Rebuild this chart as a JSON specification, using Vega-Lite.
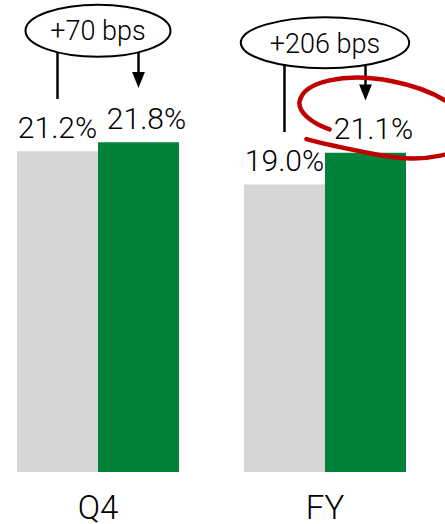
{
  "$schema": "https://vega.github.io/schema/vega-lite/v6.json",
  "width": 423,
  "height": 472,
  "autosize": {"type": "none"},
  "padding": {"left": 0, "top": 0, "right": 22, "bottom": 52},
  "background": "white",
  "config": {"view": {"stroke": null}},
  "datasets": {
    "bars": [
      {"group": "Q4", "period": "PY", "value": 21.2, "label": "21.2%"},
      {"group": "Q4", "period": "CY", "value": 21.8, "label": "21.8%"},
      {"group": "FY", "period": "PY", "value": 19.0, "label": "19.0%"},
      {"group": "FY", "period": "CY", "value": 21.1, "label": "21.1%"}
    ],
    "ellipses": [
      {"group": "Q4", "y": 29.17, "ty": 28.56, "text": "+70 bps"},
      {"group": "FY", "y": 28.38, "ty": 27.70, "text": "+206 bps"}
    ],
    "lines": [
      {"group": "Q4", "period": "PY", "y": 27.74, "y2": 24.66},
      {"group": "Q4", "period": "CY", "y": 27.74, "y2": 26.2},
      {"group": "FY", "period": "PY", "y": 26.9, "y2": 22.47},
      {"group": "FY", "period": "CY", "y": 26.9, "y2": 25.4}
    ],
    "arrows": [
      {"group": "Q4", "period": "CY", "y": 25.91},
      {"group": "FY", "period": "CY", "y": 25.09}
    ],
    "highlight": [
      {"group": "FY", "y": 23.40}
    ]
  },
  "encoding": {
    "x": {
      "field": "group",
      "type": "nominal",
      "sort": ["Q4", "FY"],
      "scale": {"paddingInner": 0.2863, "paddingOuter": 0.0749},
      "axis": {
        "title": null,
        "domain": false,
        "ticks": false,
        "tickSize": 0,
        "grid": false,
        "labelAngle": 0,
        "labelFont": "Roboto",
        "labelFontWeight": 300,
        "labelFontSize": 33,
        "labelColor": "#000000",
        "labelBaseline": "alphabetic",
        "labelPadding": 46
      }
    }
  },
  "layer": [
    {
      "data": {"name": "bars"},
      "mark": {"type": "bar"},
      "encoding": {
        "xOffset": {"field": "period", "type": "nominal", "sort": ["PY", "CY"], "scale": {"paddingInner": 0, "paddingOuter": 0}},
        "y": {"field": "value", "type": "quantitative", "scale": {"domain": [0, 31.2], "nice": false, "zero": true}, "axis": null},
        "color": {"field": "period", "type": "nominal", "scale": {"domain": ["PY", "CY"], "range": ["#d5d6d8", "#00823a"]}, "legend": null}
      }
    },
    {
      "data": {"name": "bars"},
      "transform": [{"filter": "datum.period === 'PY'"}],
      "mark": {"type": "text", "font": "Roboto", "fontWeight": 300, "fontSize": 30, "baseline": "alphabetic", "align": "center", "dy": -13.5, "color": "#000000"},
      "encoding": {
        "xOffset": {"field": "period", "type": "nominal", "sort": ["PY", "CY"], "scale": {"paddingInner": 0, "paddingOuter": 0}},
        "y": {"field": "value", "type": "quantitative", "scale": {"domain": [0, 31.2], "nice": false}, "axis": null},
        "text": {"field": "label"}
      }
    },
    {
      "data": {"name": "bars"},
      "transform": [{"filter": "datum.period === 'CY'"}],
      "mark": {"type": "text", "font": "Roboto", "fontWeight": 300, "fontSize": 30, "baseline": "alphabetic", "align": "center", "dy": -13.5, "dx": 8, "color": "#000000"},
      "encoding": {
        "xOffset": {"field": "period", "type": "nominal", "sort": ["PY", "CY"], "scale": {"paddingInner": 0, "paddingOuter": 0}},
        "y": {"field": "value", "type": "quantitative", "scale": {"domain": [0, 31.2], "nice": false}, "axis": null},
        "text": {"field": "label"}
      }
    },
    {
      "data": {"name": "lines"},
      "mark": {"type": "rule", "color": "#000000", "strokeWidth": 2.5},
      "encoding": {
        "xOffset": {"field": "period", "type": "nominal", "sort": ["PY", "CY"], "scale": {"paddingInner": 0, "paddingOuter": 0}},
        "y": {"field": "y", "type": "quantitative", "scale": {"domain": [0, 31.2], "nice": false}, "axis": null},
        "y2": {"field": "y2"}
      }
    },
    {
      "data": {"name": "arrows"},
      "mark": {"type": "point", "shape": "M-0.8,-1L0.8,-1L0,1Z", "size": 256, "filled": true, "color": "#000000", "opacity": 1, "strokeWidth": 0},
      "encoding": {
        "xOffset": {"field": "period", "type": "nominal", "sort": ["PY", "CY"], "scale": {"paddingInner": 0, "paddingOuter": 0}},
        "y": {"field": "y", "type": "quantitative", "scale": {"domain": [0, 31.2], "nice": false}, "axis": null}
      }
    },
    {
      "data": {"name": "ellipses"},
      "transform": [{"filter": "datum.group === 'Q4'"}],
      "mark": {"type": "point", "shape": "M-1,0C-1,-0.198,-0.552,-0.359,0,-0.359C0.552,-0.359,1,-0.198,1,0C1,0.198,0.552,0.359,0,0.359C-0.552,0.359,-1,0.198,-1,0Z", "size": 21025, "filled": false, "color": "#000000", "opacity": 1, "strokeWidth": 2},
      "encoding": {
        "y": {"field": "y", "type": "quantitative", "scale": {"domain": [0, 31.2], "nice": false}, "axis": null}
      }
    },
    {
      "data": {"name": "ellipses"},
      "transform": [{"filter": "datum.group === 'FY'"}],
      "mark": {"type": "point", "shape": "M-1,0C-1,-0.167,-0.552,-0.303,0,-0.303C0.552,-0.303,1,-0.167,1,0C1,0.167,0.552,0.303,0,0.303C-0.552,0.303,-1,0.167,-1,0Z", "size": 28359, "filled": false, "color": "#000000", "opacity": 1, "strokeWidth": 2},
      "encoding": {
        "y": {"field": "y", "type": "quantitative", "scale": {"domain": [0, 31.2], "nice": false}, "axis": null}
      }
    },
    {
      "data": {"name": "ellipses"},
      "mark": {"type": "text", "font": "Roboto", "fontWeight": 300, "fontSize": 27, "baseline": "alphabetic", "align": "center", "color": "#000000"},
      "encoding": {
        "y": {"field": "ty", "type": "quantitative", "scale": {"domain": [0, 31.2], "nice": false}, "axis": null},
        "text": {"field": "text"}
      }
    },
    {
      "data": {"name": "highlight"},
      "mark": {"type": "point", "shape": "M-0.6,0.25C-0.82,0.22,-1,0.12,-1,0C-1,-0.235,-0.552,-0.43,0,-0.43C0.552,-0.43,1,-0.235,1,0C1,0.235,0.552,0.43,0,0.43C-0.35,0.43,-0.65,0.425,-0.84,0.41", "size": 30276, "angle": 11, "xOffset": 60, "filled": false, "color": "#c00000", "opacity": 1, "strokeWidth": 4.5, "strokeCap": "round"},
      "encoding": {
        "y": {"field": "y", "type": "quantitative", "scale": {"domain": [0, 31.2], "nice": false}, "axis": null}
      }
    }
  ]
}
